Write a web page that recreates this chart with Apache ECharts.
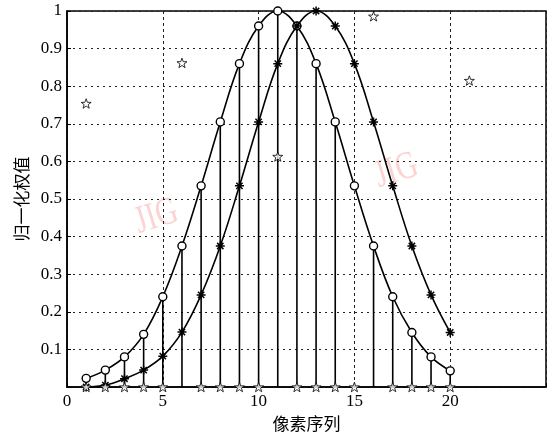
<!DOCTYPE html>
<html>
<head>
<meta charset="utf-8">
<script src="https://cdn.jsdelivr.net/npm/echarts@6/dist/echarts.min.js"></script>
<style>
  html, body { margin: 0; padding: 0; background: #fff; }
  #weight_chart { width: 554px; height: 438px; }
</style>
</head>
<body>
<div id="weight_chart"></div>
<script>
// pixel index
var pixelX = [1, 2, 3, 4, 5, 6, 7, 8, 9, 10, 11, 12, 13, 14, 15, 16, 17, 18, 19, 20];
// weights centred on 11 (circles)
var circleY = [0.023, 0.045, 0.08, 0.14, 0.24, 0.375, 0.535, 0.705, 0.86, 0.96, 1.0, 0.96, 0.86, 0.705, 0.535, 0.375, 0.24, 0.145, 0.08, 0.043];
// weights centred on 13 (asterisks)
var starY = [0.0, 0.005, 0.022, 0.045, 0.082, 0.146, 0.245, 0.375, 0.535, 0.705, 0.86, 0.96, 1.0, 0.96, 0.86, 0.705, 0.535, 0.375, 0.245, 0.145];
// stems
var stemX = [1, 2, 3, 4, 5, 6, 7, 8, 9, 10, 11, 12, 13, 14, 16, 17, 18, 19, 20];
var stemY = [0.023, 0.045, 0.08, 0.14, 0.24, 0.375, 0.535, 0.705, 0.86, 0.96, 1.0, 0.96, 0.86, 0.705, 0.375, 0.24, 0.145, 0.08, 0.043];
// pentagram markers
var pentX = [1, 2, 3, 4, 5, 7, 8, 9, 10, 12, 13, 14, 15, 17, 18, 19, 20, 1, 6, 11, 16, 21];
var pentY = [0, 0, 0, 0, 0, 0, 0, 0, 0, 0, 0, 0, 0, 0, 0, 0, 0, 0.754, 0.862, 0.613, 0.986, 0.815];
// ticks
var xTicks = [0, 5, 10, 15, 20];
var yTicks = ['0.1', '0.2', '0.3', '0.4', '0.5', '0.6', '0.7', '0.8', '0.9', '1'];

weight_chart();

function pairs(xs, ys){
    var out = [];
    for (var i = 0; i < xs.length; i++) out.push([xs[i], ys[i]]);
    return out;
}

function weight_chart(){
    var chart = echarts.init(document.getElementById('weight_chart'));
    var serif = '"Liberation Serif", "DejaVu Serif", serif';
    var cjk = '"Noto Sans CJK SC", sans-serif';

    var starPath = 'path://M0,-100L23.5,-32.4L95.1,-30.9L38,12.4L58.8,80.9L0,40L-58.8,80.9L-38,12.4L-95.1,-30.9L-23.5,-32.4Z';
    var asteriskPath = 'path://M0,-10L0,10M-10,0L10,0M-7,-7L7,7M-7,7L7,-7';

    var option = {
        animation: false,
        backgroundColor: '#fff',
        grid: {
            left: 67, right: 8, top: 11, bottom: 51,
            show: true, borderColor: '#000', borderWidth: 1.5
        },
        graphic: [
            { type: 'text', left: 130, top: 192, rotation: 0.3, scaleY: 1.3,
              style: { text: 'JIG', font: '30px ' + serif, fill: 'rgba(245,130,130,0.35)' } },
            { type: 'text', left: 370, top: 146, rotation: 0.3, scaleY: 1.3,
              style: { text: 'JIG', font: '30px ' + serif, fill: 'rgba(245,130,130,0.35)' } }
        ],
        xAxis: {
            type: 'value', min: 0, max: 25, interval: 5,
            name: '像素序列', nameLocation: 'middle', nameGap: 28,
            nameTextStyle: { fontFamily: cjk, fontSize: 17, color: '#000' },
            axisLine: { show: true, lineStyle: { color: '#000', width: 1.5 } },
            axisTick: { show: true, inside: true, length: 4, lineStyle: { color: '#000' } },
            axisLabel: {
                color: '#000', fontFamily: serif, fontSize: 17, margin: 6,
                formatter: function(v){ return xTicks.indexOf(v) >= 0 ? String(v) : ''; }
            },
            splitLine: { show: true, lineStyle: { color: '#222', type: [3, 3], width: 1 } }
        },
        yAxis: {
            type: 'value', min: 0, max: 1, interval: 0.1,
            name: '归一化权值', nameLocation: 'middle', nameGap: 34,
            nameTextStyle: { fontFamily: cjk, fontSize: 17, color: '#000' },
            axisLine: { show: true, lineStyle: { color: '#000', width: 1.5 } },
            axisTick: { show: true, inside: true, length: 4, lineStyle: { color: '#000' } },
            axisLabel: {
                color: '#000', fontFamily: serif, fontSize: 17, margin: 5,
                formatter: function(v){
                    var s = String(Math.round(v * 10) / 10);
                    return yTicks.indexOf(s) >= 0 ? s : '';
                }
            },
            splitLine: { show: true, lineStyle: { color: '#222', type: [2, 4], width: 1 } }
        },
        series: [
            {
                name: 'stem', type: 'bar', barWidth: 1.6, z: 1,
                itemStyle: { color: '#000' },
                data: pairs(stemX, stemY)
            },
            {
                name: 'circle', type: 'line', smooth: 0.4, z: 3,
                symbol: 'circle', symbolSize: 8,
                lineStyle: { color: '#000', width: 1.6 },
                itemStyle: { color: '#fff', borderColor: '#000', borderWidth: 1.4 },
                data: pairs(pixelX, circleY)
            },
            {
                name: 'asterisk', type: 'line', smooth: 0.4, z: 4,
                symbol: asteriskPath, symbolSize: 9,
                lineStyle: { color: '#000', width: 1.6 },
                itemStyle: { color: 'none', borderColor: '#000', borderWidth: 1.5 },
                data: pairs(pixelX, starY)
            },
            {
                name: 'pentagram', type: 'scatter', z: 5,
                symbol: starPath, symbolSize: 10, symbolKeepAspect: true,
                itemStyle: { color: '#fff', borderColor: '#000', borderWidth: 1 },
                data: pairs(pentX, pentY)
            }
        ]
    };
    chart.setOption(option);
}
</script>
</body>
</html>
